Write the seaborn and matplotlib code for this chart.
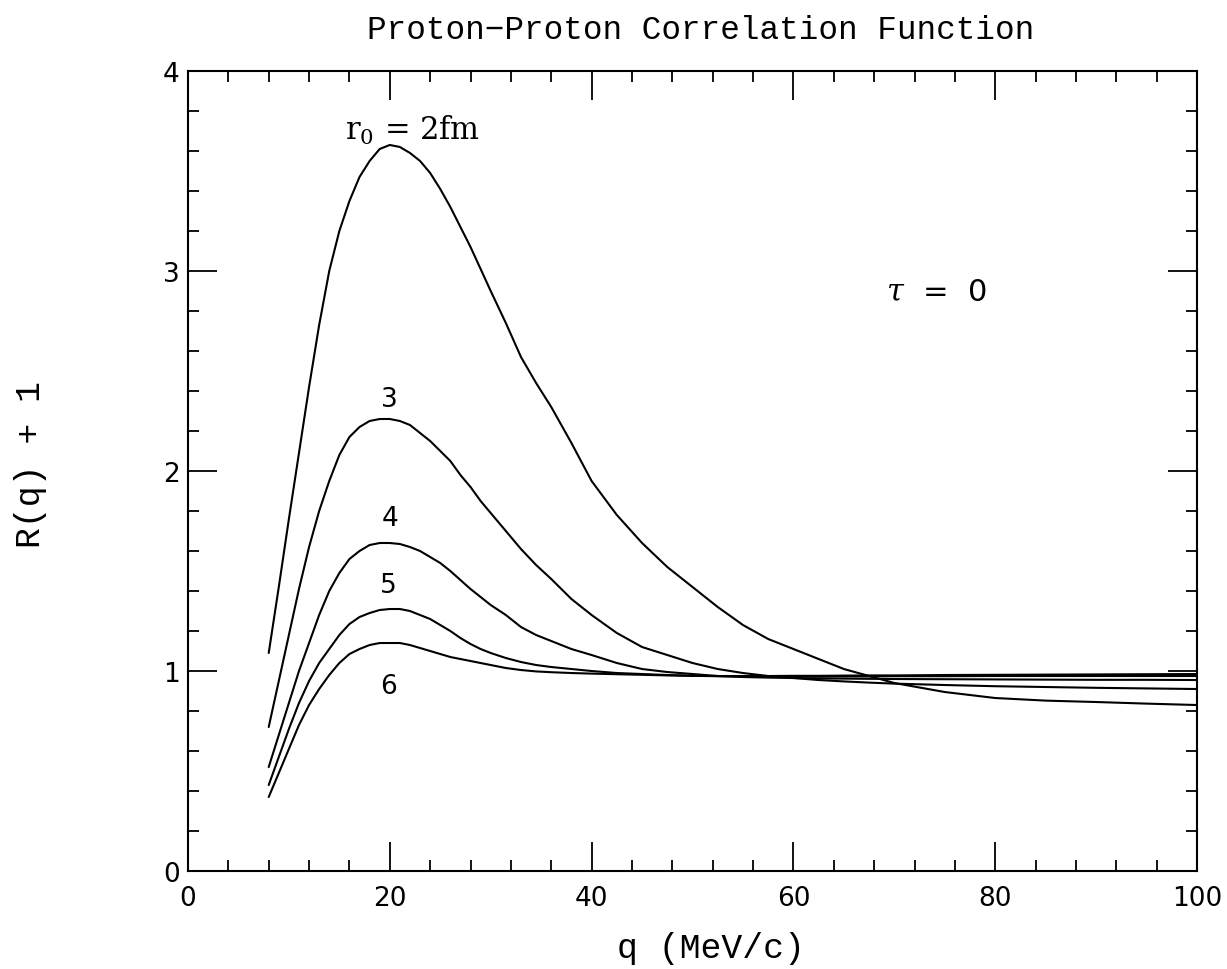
import numpy as np
import pandas as pd
import matplotlib
matplotlib.use("Agg")
import matplotlib.pyplot as plt
import seaborn as sns
from matplotlib.ticker import MultipleLocator

# ---- data ----
q = [8, 9, 10, 11, 12, 13, 14, 15, 16, 17, 18, 19, 20, 21, 22, 23, 24, 25, 26, 27, 28, 29, 30,
     31.5, 33, 34.5, 36, 38, 40, 42.5, 45, 47.5, 50, 52.5, 55, 57.5, 60, 62.5, 65,
     67.5, 70, 75, 80, 85, 90, 95, 100]
r0_2 = [1.09, 1.42, 1.76, 2.09, 2.42, 2.73, 3.00, 3.20, 3.35, 3.47, 3.55, 3.61, 3.63, 3.62, 3.59, 3.55,
        3.49, 3.41, 3.32, 3.22, 3.12, 3.01, 2.90,
        2.74, 2.57, 2.44, 2.32, 2.14, 1.95, 1.78, 1.64, 1.52, 1.42, 1.32, 1.23, 1.16, 1.11, 1.06, 1.01,
        0.975, 0.94, 0.895, 0.865, 0.852, 0.845, 0.837, 0.83]
r0_3 = [0.72, 0.95, 1.18, 1.41, 1.62, 1.80, 1.95, 2.08, 2.17, 2.22, 2.25, 2.26, 2.26, 2.25, 2.23, 2.19,
        2.15, 2.10, 2.05, 1.98, 1.92, 1.85, 1.79,
        1.70, 1.61, 1.53, 1.46, 1.36, 1.28, 1.19, 1.12, 1.08, 1.04, 1.01, 0.99, 0.975, 0.965, 0.955, 0.948,
        0.942, 0.937, 0.93, 0.924, 0.92, 0.916, 0.913, 0.91]
r0_4 = [0.52, 0.68, 0.84, 1.00, 1.14, 1.28, 1.40, 1.49, 1.56, 1.60, 1.63, 1.64, 1.64, 1.635, 1.62, 1.60,
        1.57, 1.54, 1.50, 1.455, 1.41, 1.37, 1.33,
        1.28, 1.22, 1.18, 1.15, 1.11, 1.08, 1.04, 1.01, 0.995, 0.985, 0.975, 0.97, 0.967, 0.965, 0.963, 0.962,
        0.961, 0.96, 0.959, 0.958, 0.957, 0.956, 0.956, 0.955]
r0_5 = [0.43, 0.57, 0.71, 0.84, 0.95, 1.04, 1.11, 1.18, 1.235, 1.27, 1.29, 1.305, 1.31, 1.31, 1.30, 1.28,
        1.26, 1.23, 1.20, 1.165, 1.135, 1.11, 1.09,
        1.065, 1.045, 1.03, 1.02, 1.01, 1.00, 0.99, 0.985, 0.98, 0.976, 0.974, 0.973, 0.972, 0.972, 0.972, 0.973,
        0.973, 0.974, 0.974, 0.975, 0.975, 0.975, 0.975, 0.975]
r0_6 = [0.37, 0.49, 0.61, 0.73, 0.83, 0.91, 0.98, 1.04, 1.085, 1.11, 1.13, 1.14, 1.14, 1.14, 1.13, 1.115,
        1.10, 1.085, 1.07, 1.06, 1.05, 1.04, 1.03,
        1.015, 1.005, 0.998, 0.994, 0.99, 0.987, 0.984, 0.981, 0.978, 0.976, 0.975, 0.975, 0.975, 0.976, 0.976, 0.977,
        0.978, 0.978, 0.98, 0.981, 0.982, 0.983, 0.984, 0.985]
radii = ["2", "3", "4", "5", "6"]
curve_labels = ["r$_0$ = 2fm", "3", "4", "5", "6"]
label_pos_q = [22.3, 20.0, 20.0, 19.9, 19.9]
label_pos_v = [3.71, 2.36, 1.765, 1.43, 0.925]
title = "Proton\u2212Proton Correlation Function"
xlabel = "q (MeV/c)"
ylabel = "R(q) + 1"
tau_text = r"$\tau$  =  0"

series = [r0_2, r0_3, r0_4, r0_5, r0_6]
df = pd.concat(
    [pd.DataFrame({"q": q, "R": s, "r0": r}) for s, r in zip(series, radii)],
    ignore_index=True,
)

sns.set_style("ticks")
plt.rcParams["font.family"] = ["DejaVu Sans"]
plt.rcParams["mathtext.fontset"] = "dejavuserif"
for key in ["text.color", "axes.labelcolor", "xtick.color", "ytick.color", "axes.edgecolor"]:
    plt.rcParams[key] = "black"

fig = plt.figure(figsize=(12.27, 9.70), dpi=100)
ax = fig.add_axes([0.1532, 0.101, 0.8224, 0.8248])

sns.lineplot(data=df, x="q", y="R", hue="r0", palette=["black"] * 5,
             linewidth=1.5, legend=False, ax=ax, estimator=None, sort=True)

ax.set_xlim(0, 100)
ax.set_ylim(0, 4)
ax.xaxis.set_major_locator(MultipleLocator(20))
ax.xaxis.set_minor_locator(MultipleLocator(4))
ax.yaxis.set_major_locator(MultipleLocator(1))
ax.yaxis.set_minor_locator(MultipleLocator(0.2))
ax.tick_params(which="both", direction="in", top=True, right=True, width=1.3,
               colors="black")
ax.tick_params(which="major", length=21)
ax.tick_params(which="minor", length=8)
ax.tick_params(axis="x", which="major", pad=10, labelsize=19)
ax.tick_params(axis="y", which="major", pad=6, labelsize=19)
for sp in ax.spines.values():
    sp.set_linewidth(1.5)
    sp.set_color("black")

ax.set_xlabel(xlabel, fontsize=25, family="Liberation Mono")
ax.xaxis.set_label_coords(0.518, -0.095)
ax.xaxis.label.set_va("center")
ax.set_ylabel(ylabel, fontsize=25, family="Liberation Mono")
ax.yaxis.set_label_coords(-0.156, 0.509)
ax.yaxis.label.set_va("center")
fig.suptitle(title, x=0.571, y=0.985, fontsize=23.5, family="Liberation Mono")

for lab, xq, yv in zip(curve_labels, label_pos_q, label_pos_v):
    fam = "DejaVu Serif" if lab.startswith("r") else "DejaVu Sans"
    size = 22 if lab.startswith("r") else 19
    ax.text(xq, yv, lab, ha="center", va="center", fontsize=size, family=fam)
ax.text(74.2, 2.895, tau_text, ha="center", va="center", fontsize=22)

fig.savefig("out.png", dpi=100, facecolor="white")
